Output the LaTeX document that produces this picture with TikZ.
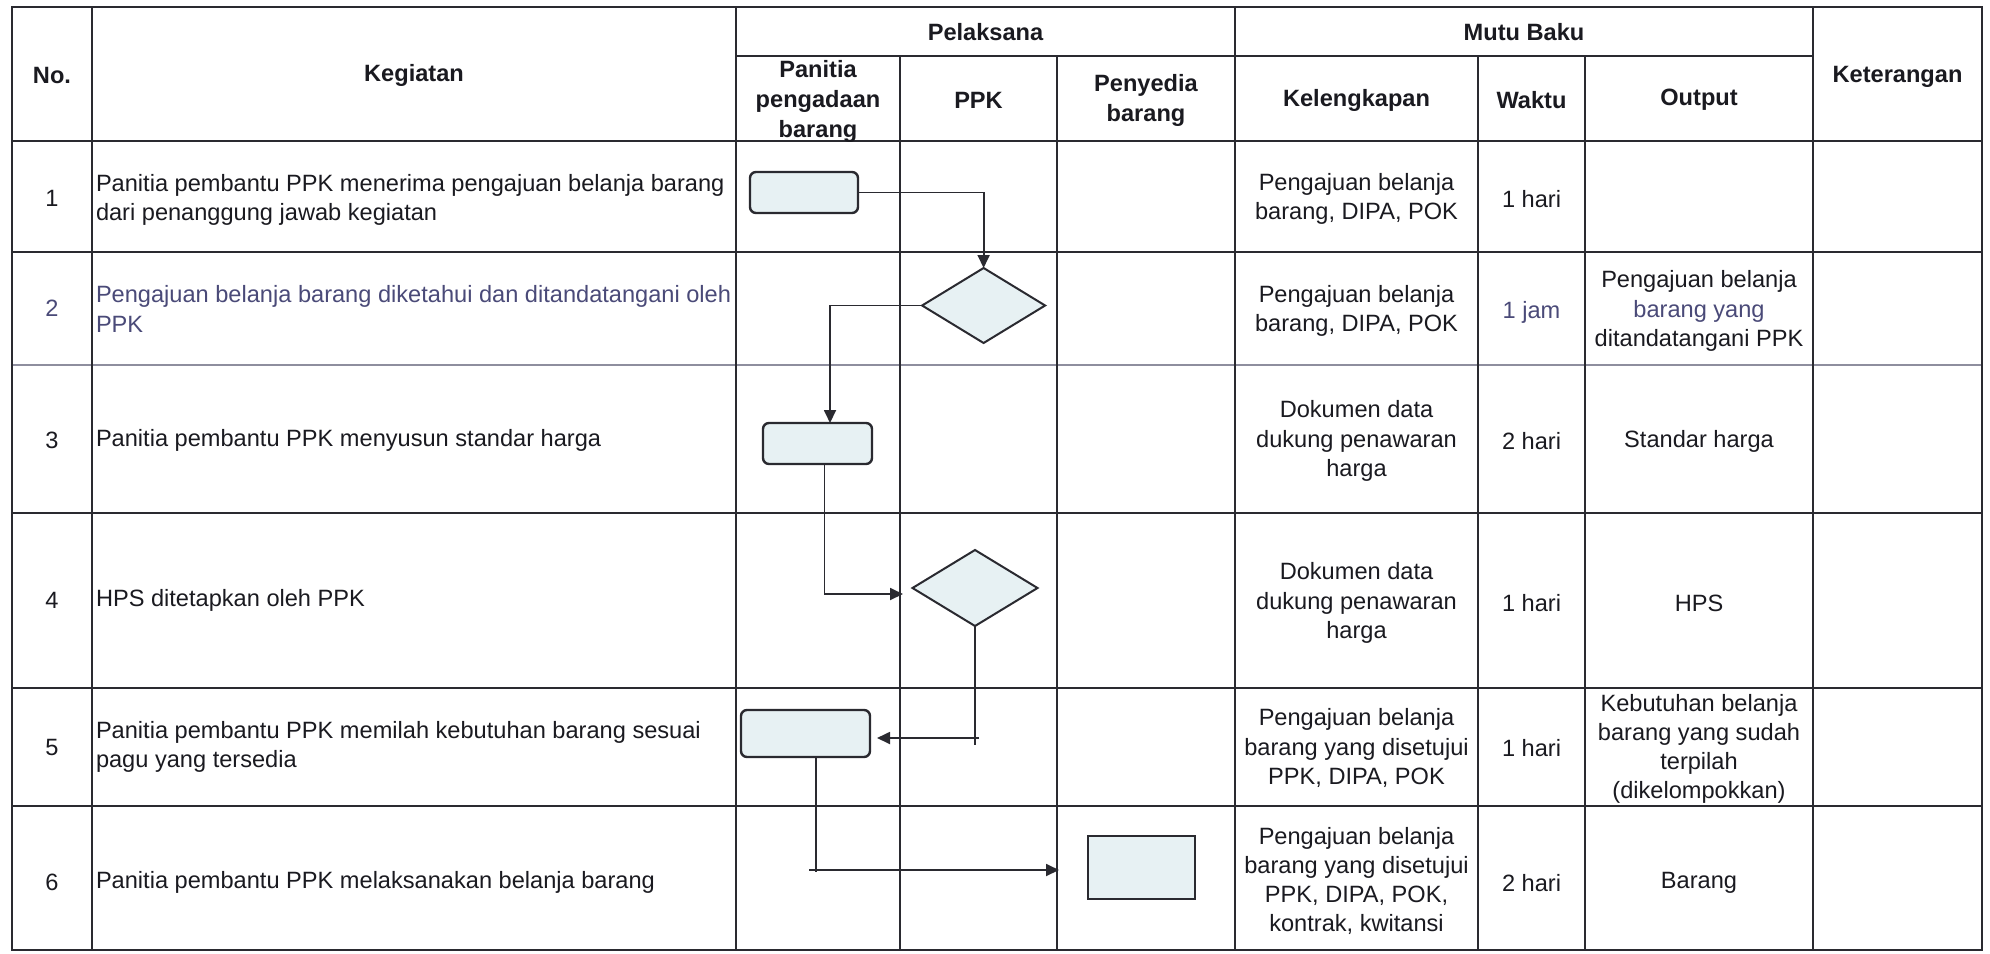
\documentclass[tikz,border=0pt]{standalone}
\usepackage{fontspec}
\setmainfont{Liberation Sans}
\usetikzlibrary{arrows.meta,shapes.geometric,calc}
\definecolor{ln}{HTML}{2A2A30}
\definecolor{txt}{HTML}{1A1A20}
\definecolor{blu}{HTML}{4A4A78}
\definecolor{shfill}{HTML}{E7F1F3}
\definecolor{gline}{HTML}{8E8E9E}
\begin{document}
\begin{tikzpicture}[x=0.5pt,y=-0.5pt,
  every node/.style={inner sep=0pt, outer sep=0pt, text=txt, font=\fontsize{11.8}{14.6}\selectfont},
  hd/.style={font=\fontsize{11.8}{15}\selectfont\bfseries, align=center},
  cc/.style={align=center},
  kg/.style={anchor=west, align=left},
  grid/.style={draw=ln, line width=1pt},
  proc/.style={draw=ln, line width=1.2pt, fill=shfill, rounded corners=3pt},
  plainbox/.style={draw=ln, line width=1.2pt, fill=shfill},
  decide/.style={draw=ln, line width=1pt, fill=shfill, diamond},
  flow/.style={draw=ln, line width=0.9pt},
  tip/.style={-{Triangle[length=6.5pt,width=6pt]}}
]
\useasboundingbox[fill=white] (0,0) rectangle (1990,953);

% grid
\draw[draw=gline, line width=1.1pt] (12,365) -- (1982,365);
\draw[grid] (12,7) rectangle (1982,950);
\draw[grid] (736,56) -- (1813,56);
\foreach \yy in {141,252,513,688,806} \draw[grid] (12,\yy) -- (1982,\yy);
\foreach \xx in {92,736,1235,1813} \draw[grid] (\xx,7) -- (\xx,950);
\foreach \xx in {900,1057,1478,1585} \draw[grid] (\xx,56) -- (\xx,950);

% header
\node[hd] (hNo) at (52,75) {No.};
\node[hd] (hKeg) at (414,75) {Kegiatan};
\node[hd] (hPel) at (985.5,32) {Pelaksana};
\node[hd] (hMutu) at (1524,32) {Mutu Baku};
\node[hd] (hKet) at (1897.5,77) {Keterangan};
\node[hd] (hPan) at (818,101) {Panitia\\pengadaan\\barang};
\node[hd] (hPPK) at (978.5,100) {PPK};
\node[hd] (hPen) at (1146,100) {Penyedia\\barang};
\node[hd] (hKel) at (1356.5,100) {Kelengkapan};
\node[hd] (hWak) at (1531.5,100) {Waktu};
\node[hd] (hOut) at (1699,100) {Output};

% row 1
\node (n1) at (52,198) {1};
\node[kg] (k1) at (96,200) {Panitia pembantu PPK menerima pengajuan belanja barang\\dari penanggung jawab kegiatan};
\node[cc] (l1) at (1356.5,199) {Pengajuan belanja\\barang, DIPA, POK};
\node (w1) at (1531.5,199) {1 hari};

% row 2
\node[text=blu] (n2) at (52,308) {2};
\node[kg,text=blu] (k2) at (96,309) {Pengajuan belanja barang diketahui dan ditandatangani oleh\\PPK};
\node[cc] (l2) at (1356.5,311) {Pengajuan belanja\\barang, DIPA, POK};
\node[text=blu] (w2) at (1531.5,312) {1 jam};
\node[cc] (o2) at (1699,311) {Pengajuan belanja\\\textcolor{blu}{barang yang}\\ditandatangani PPK};

% row 3
\node (n3) at (52,440) {3};
\node[kg] (k3) at (96,440) {Panitia pembantu PPK menyusun standar harga};
\node[cc] (l3) at (1356.5,441) {Dokumen data\\dukung penawaran\\harga};
\node (w3) at (1531.5,441) {2 hari};
\node (o3) at (1699,441) {Standar harga};

% row 4
\node (n4) at (52,600) {4};
\node[kg] (k4) at (96,600) {HPS ditetapkan oleh PPK};
\node[cc] (l4) at (1356.5,603) {Dokumen data\\dukung penawaran\\harga};
\node (w4) at (1531.5,603) {1 hari};
\node (o4) at (1699,603) {HPS};

% row 5
\node (n5) at (52,747) {5};
\node[kg] (k5) at (96,747) {Panitia pembantu PPK memilah kebutuhan barang sesuai\\pagu yang tersedia};
\node[cc] (l5) at (1356.5,748) {Pengajuan belanja\\barang yang disetujui\\PPK, DIPA, POK};
\node (w5) at (1531.5,748) {1 hari};
\node[cc] (o5) at (1699,749) {Kebutuhan belanja\\barang yang sudah\\terpilah\\(dikelompokkan)};

% row 6
\node (n6) at (52,882) {6};
\node[kg] (k6) at (96,882) {Panitia pembantu PPK melaksanakan belanja barang};
\node[cc] (l6) at (1356.5,881) {Pengajuan belanja\\barang yang disetujui\\PPK, DIPA, POK,\\kontrak, kwitansi};
\node (w6) at (1531.5,883) {2 hari};
\node (o6) at (1699,883) {Barang};

% flow shapes
\node[proc, minimum width=54pt, minimum height=20.5pt] (r1) at (804,192.5) {};
\node[decide, minimum width=61.5pt, minimum height=37.5pt] (d2) at (983.6,305.5) {};
\node[proc, minimum width=54.5pt, minimum height=20.5pt] (r3) at (817.5,443.5) {};
\node[decide, minimum width=62.5pt, minimum height=38pt] (d4) at (975,588) {};
\node[proc, minimum width=64.5pt, minimum height=23.5pt] (r5) at (805.5,733.5) {};
\node[plainbox, minimum width=53.5pt, minimum height=31.5pt] (r6) at (1141.5,867.5) {};

% connectors
\coordinate (c2) at (830,305.5);
\coordinate (t4) at (903,594);
\coordinate (e4) at (975,745);
\coordinate (j5) at (979,738);
\coordinate (t5) at (877,738);
\coordinate (s5) at (816,872);
\coordinate (j6) at (809,870);
\coordinate (t6) at (1059,870);

\draw[flow,tip] (r1.east) -| (d2.north);
\draw[flow,tip] (d2.west) -- (c2) -- (c2 |- r3.north);
\draw[flow,tip] ($(r3.south)+(7,0)$) |- (t4);
\draw[flow] (d4.south) -- (e4);
\draw[flow,tip] (j5) -- (t5);
\draw[flow] ($(r5.south)+(10.5,0)$) -- (s5);
\draw[flow,tip] (j6) -- (t6);
\end{tikzpicture}
\end{document}
